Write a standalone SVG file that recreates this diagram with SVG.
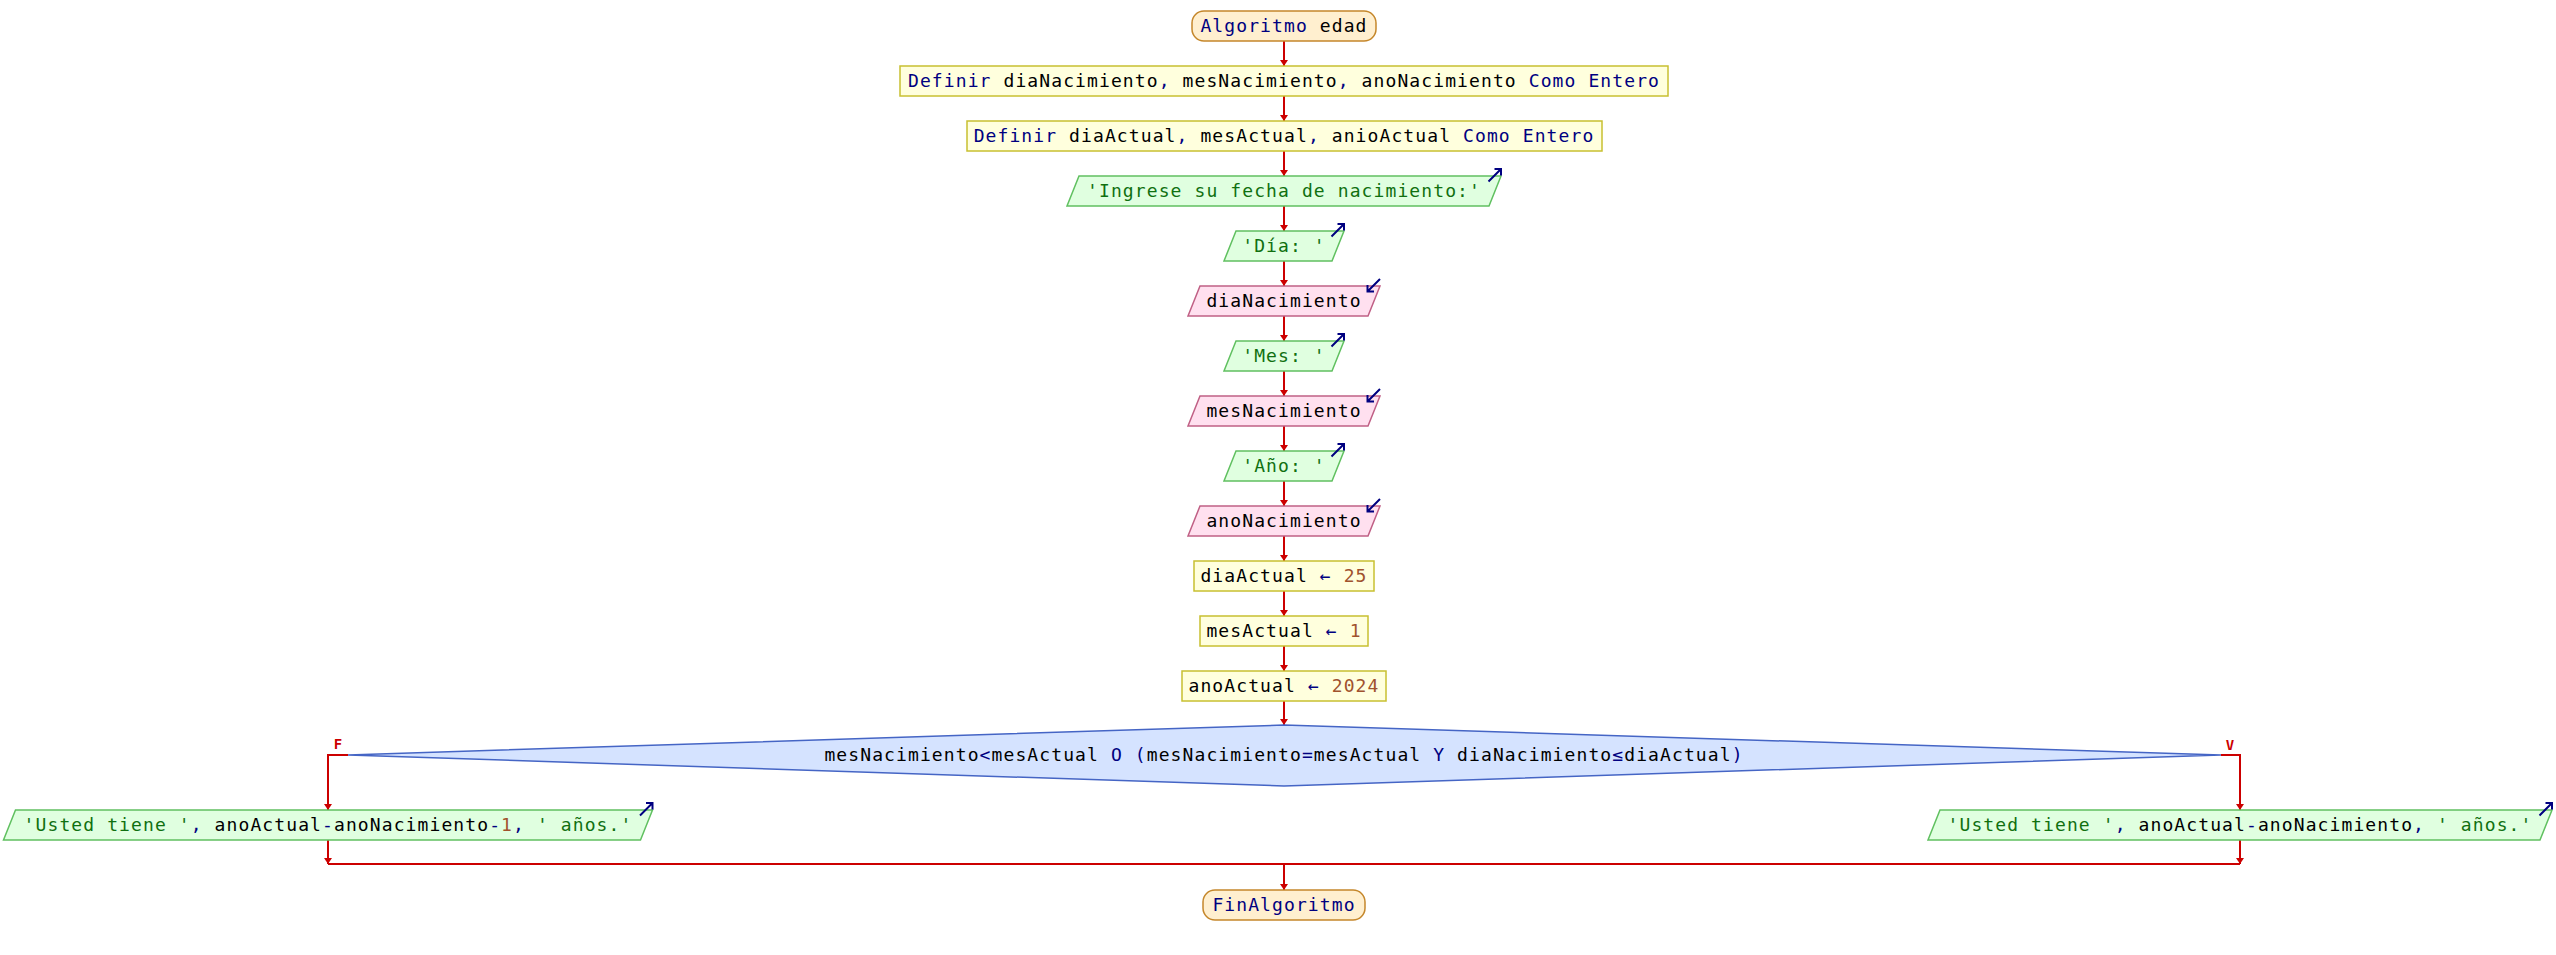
<svg xmlns="http://www.w3.org/2000/svg" xmlns:xlink="http://www.w3.org/1999/xlink" width="2556" height="955" viewBox="0 0 2556 955">
<style>
.t{font-family:"DejaVu Sans Mono","Liberation Mono",monospace;font-size:18px;letter-spacing:1.1px;text-anchor:middle;fill:#000}
.k{fill:#000080}
.s{fill:#107010}
.n{fill:#a0522d}
.term{fill:#ffefcf;stroke:#c5872b;stroke-width:1.5}
.proc{fill:#ffffdd;stroke:#c8c030;stroke-width:1.5}
.out{fill:#e0ffe0;stroke:#60c060;stroke-width:1.5}
.in{fill:#ffe0ef;stroke:#c06085;stroke-width:1.5}
.dec{fill:#d5e3ff;stroke:#4565c5;stroke-width:1.5}
.ic{fill:none;stroke:#000080;stroke-width:2}
.c{fill:none;stroke:#cc0000;stroke-width:2}
.ca{fill:none;stroke:#cc0000;stroke-width:2;marker-end:url(#ah)}
.lbl{font-family:"DejaVu Sans Mono","Liberation Mono",monospace;font-size:14px;font-weight:bold;fill:#cc0000;text-anchor:middle}
</style>
<defs>
<marker id="ah" markerWidth="7" markerHeight="8" refX="6" refY="4" orient="auto" markerUnits="userSpaceOnUse"><path d="M0,0 L6,4 L0,8 z" fill="#cc0000"/></marker>
<path id="outIcon" class="ic" d="M-12.5,5.5 L0,-7 M-6.5,-7 L0,-7 L0,-0.5"/>
<path id="inIcon" class="ic" d="M0,-7 L-12.5,5.5 M-12.5,-1 L-12.5,5.5 L-6,5.5"/>
</defs>

<g id="connectors">
<line class="ca" x1="1284" y1="41" x2="1284" y2="66"/>
<line class="ca" x1="1284" y1="96" x2="1284" y2="121"/>
<line class="ca" x1="1284" y1="151" x2="1284" y2="176"/>
<line class="ca" x1="1284" y1="206" x2="1284" y2="231"/>
<line class="ca" x1="1284" y1="261" x2="1284" y2="286"/>
<line class="ca" x1="1284" y1="316" x2="1284" y2="341"/>
<line class="ca" x1="1284" y1="371" x2="1284" y2="396"/>
<line class="ca" x1="1284" y1="426" x2="1284" y2="451"/>
<line class="ca" x1="1284" y1="481" x2="1284" y2="506"/>
<line class="ca" x1="1284" y1="536" x2="1284" y2="561"/>
<line class="ca" x1="1284" y1="591" x2="1284" y2="616"/>
<line class="ca" x1="1284" y1="646" x2="1284" y2="671"/>
<line class="ca" x1="1284" y1="701" x2="1284" y2="725"/>
<polyline class="ca" points="348,755 328,755 328,810"/>
<polyline class="ca" points="2221,755 2240,755 2240,810"/>
<line class="ca" x1="328" y1="840" x2="328" y2="864"/>
<line class="ca" x1="2240" y1="840" x2="2240" y2="864"/>
<line class="c" x1="328" y1="864" x2="2240" y2="864"/>
<line class="ca" x1="1284" y1="864" x2="1284" y2="890"/>
<text class="lbl" x="338" y="749">F</text>
<text class="lbl" x="2230" y="750">V</text>
</g>

<g id="n0">
<rect class="term" x="1192" y="11" width="184" height="30" rx="12"/>
<text class="t" x="1284" y="32"><tspan class="k">Algoritmo</tspan> edad</text>
</g>

<g id="n1">
<rect class="proc" x="900" y="66" width="768" height="30"/>
<text class="t" x="1284" y="87"><tspan class="k">Definir</tspan> diaNacimiento<tspan class="k">,</tspan> mesNacimiento<tspan class="k">,</tspan> anoNacimiento <tspan class="k">Como Entero</tspan></text>
</g>

<g id="n2">
<rect class="proc" x="967" y="121" width="635" height="30"/>
<text class="t" x="1284" y="142"><tspan class="k">Definir</tspan> diaActual<tspan class="k">,</tspan> mesActual<tspan class="k">,</tspan> anioActual <tspan class="k">Como Entero</tspan></text>
</g>

<g id="n3">
<polygon class="out" points="1079,176 1501,176 1489,206 1067,206"/>
<use xlink:href="#outIcon" x="1501" y="176"/>
<text class="t s" x="1284" y="197">'Ingrese su fecha de nacimiento:'</text>
</g>

<g id="n4">
<polygon class="out" points="1236,231 1344,231 1332,261 1224,261"/>
<use xlink:href="#outIcon" x="1344" y="231"/>
<text class="t s" x="1284" y="252">'Día: '</text>
</g>

<g id="n5">
<polygon class="in" points="1200,286 1380,286 1368,316 1188,316"/>
<use xlink:href="#inIcon" x="1380" y="286"/>
<text class="t" x="1284" y="307">diaNacimiento</text>
</g>

<g id="n6">
<polygon class="out" points="1236,341 1344,341 1332,371 1224,371"/>
<use xlink:href="#outIcon" x="1344" y="341"/>
<text class="t s" x="1284" y="362">'Mes: '</text>
</g>

<g id="n7">
<polygon class="in" points="1200,396 1380,396 1368,426 1188,426"/>
<use xlink:href="#inIcon" x="1380" y="396"/>
<text class="t" x="1284" y="417">mesNacimiento</text>
</g>

<g id="n8">
<polygon class="out" points="1236,451 1344,451 1332,481 1224,481"/>
<use xlink:href="#outIcon" x="1344" y="451"/>
<text class="t s" x="1284" y="472">'Año: '</text>
</g>

<g id="n9">
<polygon class="in" points="1200,506 1380,506 1368,536 1188,536"/>
<use xlink:href="#inIcon" x="1380" y="506"/>
<text class="t" x="1284" y="527">anoNacimiento</text>
</g>

<g id="n10">
<rect class="proc" x="1194" y="561" width="180" height="30"/>
<text class="t" x="1284" y="582">diaActual <tspan class="k">←</tspan> <tspan class="n">25</tspan></text>
</g>

<g id="n11">
<rect class="proc" x="1200" y="616" width="168" height="30"/>
<text class="t" x="1284" y="637">mesActual <tspan class="k">←</tspan> <tspan class="n">1</tspan></text>
</g>

<g id="n12">
<rect class="proc" x="1182" y="671" width="204" height="30"/>
<text class="t" x="1284" y="692">anoActual <tspan class="k">←</tspan> <tspan class="n">2024</tspan></text>
</g>

<g id="n13">
<polygon class="dec" points="348,755 1284,725 2221,755 1284,786"/>
<text class="t" x="1284" y="761">mesNacimiento<tspan class="k">&lt;</tspan>mesActual <tspan class="k">O</tspan> <tspan class="k">(</tspan>mesNacimiento<tspan class="k">=</tspan>mesActual <tspan class="k">Y</tspan> diaNacimiento<tspan class="k">≤</tspan>diaActual<tspan class="k">)</tspan></text>
</g>

<g id="n14">
<polygon class="out" points="15.5,810 652.5,810 640.5,840 3.5,840"/>
<use xlink:href="#outIcon" x="652.5" y="810"/>
<text class="t" x="328" y="831"><tspan class="s">'Usted tiene '</tspan><tspan class="k">,</tspan> anoActual<tspan class="k">-</tspan>anoNacimiento<tspan class="k">-</tspan><tspan class="n">1</tspan><tspan class="k">,</tspan> <tspan class="s">' años.'</tspan></text>
</g>

<g id="n15">
<polygon class="out" points="1940,810 2552,810 2540,840 1928,840"/>
<use xlink:href="#outIcon" x="2552" y="810"/>
<text class="t" x="2240" y="831"><tspan class="s">'Usted tiene '</tspan><tspan class="k">,</tspan> anoActual<tspan class="k">-</tspan>anoNacimiento<tspan class="k">,</tspan> <tspan class="s">' años.'</tspan></text>
</g>

<g id="n16">
<rect class="term" x="1203" y="890" width="162" height="30" rx="12"/>
<text class="t k" x="1284" y="911">FinAlgoritmo</text>
</g>
</svg>
